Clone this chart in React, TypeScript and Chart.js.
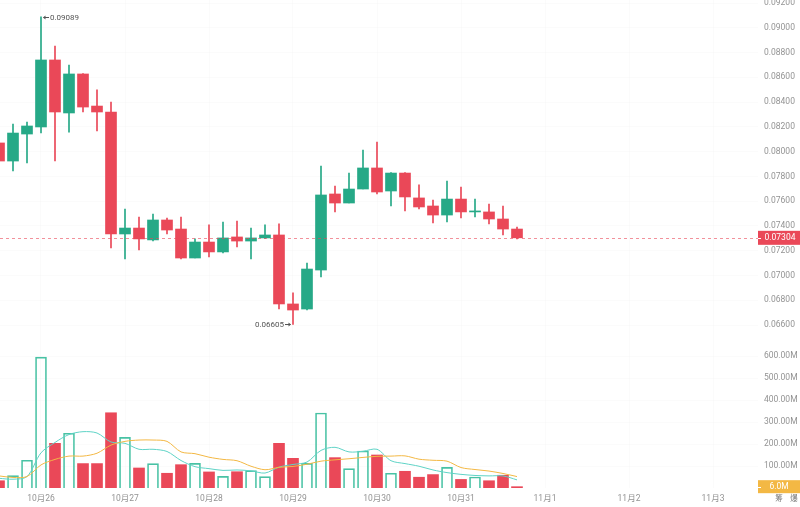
import React, { useEffect, useRef } from 'react';
import { Chart, registerables } from 'chart.js';

Chart.register(...registerables);

// hours relative to 10月26 00:00, one candle every 4h
const hours = [-12, -8, -4, 0, 4, 8, 12, 16, 20, 24, 28, 32, 36, 40, 44, 48, 52, 56, 60, 64, 68, 72, 76, 80, 84, 88, 92, 96, 100, 104, 108, 112, 116, 120, 124, 128, 132, 136];

const opens = [0.0807, 0.07924, 0.08142, 0.08199, 0.0874, 0.08312, 0.08627, 0.08368, 0.0832, 0.07335, 0.07383, 0.07287, 0.07448, 0.07375, 0.07141, 0.0727, 0.0719, 0.07311, 0.07278, 0.07303, 0.07327, 0.0677, 0.06729, 0.07044, 0.07658, 0.07585, 0.07698, 0.07868, 0.07682, 0.07827, 0.07626, 0.07561, 0.07488, 0.07617, 0.07513, 0.07513, 0.07456, 0.07375];
const highs = [0.0811, 0.08223, 0.08239, 0.09089, 0.08853, 0.08699, 0.0863, 0.08498, 0.08401, 0.07537, 0.07472, 0.07496, 0.07464, 0.07472, 0.07295, 0.07408, 0.07432, 0.0744, 0.07383, 0.07408, 0.07416, 0.06859, 0.07101, 0.07884, 0.07722, 0.07827, 0.08013, 0.08078, 0.0783, 0.0783, 0.07731, 0.07609, 0.07763, 0.07714, 0.07617, 0.07577, 0.07561, 0.07391];
const lows = [0.079, 0.07844, 0.07908, 0.0815, 0.07924, 0.08158, 0.0832, 0.08167, 0.07222, 0.07133, 0.07206, 0.07278, 0.07335, 0.07133, 0.07141, 0.07149, 0.07182, 0.0723, 0.07133, 0.073, 0.06729, 0.06605, 0.06721, 0.06988, 0.07513, 0.07585, 0.07698, 0.07658, 0.07561, 0.07521, 0.07537, 0.07424, 0.07432, 0.07464, 0.07472, 0.07416, 0.07327, 0.07295];
const closes = [0.07924, 0.0815, 0.08207, 0.0874, 0.0832, 0.08627, 0.0836, 0.0832, 0.07335, 0.07383, 0.07295, 0.07448, 0.07367, 0.07141, 0.0727, 0.0719, 0.07303, 0.07278, 0.07303, 0.07327, 0.0677, 0.06721, 0.07052, 0.0765, 0.07585, 0.07698, 0.07868, 0.07674, 0.07827, 0.07634, 0.07553, 0.07488, 0.07617, 0.07513, 0.07521, 0.07456, 0.07375, 0.07304];

// volume in millions
const volumes = [33, 56, 126, 595, 203, 249, 111, 111, 342, 230, 91, 111, 67, 106, 112, 73, 53, 74, 79, 52, 203, 135, 112, 341, 138, 88, 168, 150, 67, 76, 49, 61, 94, 39, 50, 33, 58, 6];
const volMA5 = [44, 40, 52, 160, 207, 243, 256, 250, 209, 203, 176, 176, 166, 125, 97, 88, 80, 82, 78, 68, 95, 107, 118, 171, 185, 164, 167, 176, 124, 111, 99, 82, 70, 62, 57, 55, 55, 37];
const volMA10 = [55, 48, 52, 105, 130, 145, 145, 158, 195, 212, 218, 218, 212, 164, 156, 140, 130, 124, 99, 83, 94, 98, 108, 122, 128, 133, 139, 144, 145, 146, 131, 126, 122, 93, 84, 77, 66, 52];

const dayTicks = [0, 24, 48, 72, 96, 120, 144, 168, 192];
const dayLabels = ['10月26', '10月27', '10月28', '10月29', '10月30', '10月31', '11月1', '11月2', '11月3'];
const priceTicks = [0.066, 0.068, 0.07, 0.072, 0.074, 0.076, 0.078, 0.08, 0.082, 0.084, 0.086, 0.088, 0.09, 0.092];
const volumeTicks = [100, 200, 300, 400, 500, 600];

const UP = '#26a987';
const UP_LINE = '#48c2a4';
const DOWN = '#ea4858';
const MA5_COLOR = '#5fd3c6';
const MA10_COLOR = '#f3b844';
const TICK_COLOR = '#939393';
const FONT = 'Roboto, "Noto Sans CJK SC", sans-serif';
const GRID = 'rgba(0,0,0,0.015)';

const isUp = (i: number) => closes[i] >= opens[i];

const overlayPlugin = {
  id: 'overlay',
  afterDatasetsDraw(chart: any) {
    const { ctx, chartArea, scales } = chart;
    const xs = scales.x;
    const ys = scales.y;
    const last = closes[closes.length - 1];
    const py = Math.round(ys.getPixelForValue(last)) + 0.5;
    ctx.save();
    ctx.strokeStyle = 'rgba(234,72,88,0.6)';
    ctx.lineWidth = 1;
    ctx.setLineDash([3, 3]);
    ctx.beginPath();
    ctx.moveTo(chartArea.left, py);
    ctx.lineTo(chartArea.right, py);
    ctx.stroke();
    ctx.setLineDash([]);

    // high / low annotations
    let iHigh = 0;
    let iLow = 0;
    highs.forEach((v, i) => { if (v > highs[iHigh]) iHigh = i; });
    lows.forEach((v, i) => { if (v < lows[iLow]) iLow = i; });
    ctx.font = `8px ${FONT}`;
    ctx.fillStyle = '#555';
    ctx.strokeStyle = '#555';
    ctx.textBaseline = 'middle';

    const hx = xs.getPixelForValue(hours[iHigh]);
    const hy = Math.round(ys.getPixelForValue(highs[iHigh])) + 0.5;
    ctx.beginPath();
    ctx.moveTo(hx + 2.5, hy);
    ctx.lineTo(hx + 8, hy);
    ctx.stroke();
    ctx.beginPath();
    ctx.moveTo(hx + 2, hy);
    ctx.lineTo(hx + 4.5, hy - 2);
    ctx.lineTo(hx + 4.5, hy + 2);
    ctx.closePath();
    ctx.fill();
    ctx.textAlign = 'left';
    ctx.fillText(highs[iHigh].toFixed(5), hx + 9, hy);

    const lx = xs.getPixelForValue(hours[iLow]);
    const ly = Math.round(ys.getPixelForValue(lows[iLow])) + 0.5;
    ctx.beginPath();
    ctx.moveTo(lx - 8, ly);
    ctx.lineTo(lx - 2.5, ly);
    ctx.stroke();
    ctx.beginPath();
    ctx.moveTo(lx - 2, ly);
    ctx.lineTo(lx - 4.5, ly - 2);
    ctx.lineTo(lx - 4.5, ly + 2);
    ctx.closePath();
    ctx.fill();
    ctx.textAlign = 'right';
    ctx.fillText(lows[iLow].toFixed(5), lx - 9, ly);
    ctx.restore();
  },
  afterDraw(chart: any) {
    const { ctx, chartArea, scales, width } = chart;
    const ys = scales.y;
    const yv = scales.yv;
    ctx.save();
    const left = chartArea.right;
    const boxW = width - left;
    const cx = left + boxW / 2;
    ctx.font = `8.5px ${FONT}`;
    ctx.textAlign = 'center';
    ctx.textBaseline = 'middle';

    const last = closes[closes.length - 1];
    const py = ys.getPixelForValue(last);
    ctx.fillStyle = DOWN;
    ctx.fillRect(left, py - 7, boxW, 14);
    ctx.fillStyle = '#fff';
    ctx.fillRect(left, Math.round(py), 3, 1);
    ctx.fillText(last.toFixed(5), cx + 1, py);

    const lastV = volumes[volumes.length - 1];
    const vy = yv.getPixelForValue(lastV);
    ctx.fillStyle = MA10_COLOR;
    ctx.fillRect(left, vy - 6.5, boxW, 13);
    ctx.fillStyle = '#fff';
    ctx.fillRect(left, Math.round(vy), 3, 1);
    ctx.fillText(lastV.toFixed(1) + 'M', cx, vy);

    ctx.fillStyle = '#777';
    ctx.font = `7.5px ${FONT}`;
    ctx.fillText('筹', 779, 499);
    ctx.fillText('爆', 794, 499);
    ctx.restore();
  },
};

export default function App() {
  const ref = useRef<HTMLCanvasElement | null>(null);

  useEffect(() => {
    if (!ref.current) return;
    const candleColors = hours.map((_, i) => (isUp(i) ? UP : DOWN));
    const chart = new Chart(ref.current, {
      type: 'bar',
      data: {
        datasets: [
          {
            type: 'bar',
            label: 'wick',
            data: hours.map((h, i) => ({ x: h, y: [lows[i], highs[i]] })) as any,
            backgroundColor: candleColors,
            barThickness: 1,
            grouped: false,
            yAxisID: 'y',
            order: 4,
          },
          {
            type: 'bar',
            label: 'body',
            data: hours.map((h, i) => ({ x: h, y: [opens[i], closes[i]] })) as any,
            backgroundColor: candleColors,
            barThickness: 11,
            minBarLength: 1,
            grouped: false,
            yAxisID: 'y',
            order: 3,
          },
          {
            type: 'bar',
            label: 'volume',
            data: hours.map((h, i) => ({ x: h, y: volumes[i] })) as any,
            backgroundColor: hours.map((_, i) => (isUp(i) ? 'rgba(255,255,255,0)' : DOWN)),
            borderColor: hours.map((_, i) => (isUp(i) ? UP_LINE : DOWN)),
            borderWidth: hours.map((_, i) => (isUp(i) ? 1 : 0)) as any,
            barThickness: 11,
            grouped: false,
            yAxisID: 'yv',
            order: 2,
          },
          {
            type: 'line',
            label: 'MA5',
            data: hours.map((h, i) => ({ x: h, y: volMA5[i] })) as any,
            borderColor: MA5_COLOR,
            borderWidth: 1,
            pointRadius: 0,
            tension: 0.3,
            fill: false,
            yAxisID: 'yv',
            order: 1,
          },
          {
            type: 'line',
            label: 'MA10',
            data: hours.map((h, i) => ({ x: h, y: volMA10[i] })) as any,
            borderColor: MA10_COLOR,
            borderWidth: 1,
            pointRadius: 0,
            tension: 0.3,
            fill: false,
            yAxisID: 'yv',
            order: 0,
          },
        ],
      },
      options: {
        responsive: false,
        animation: false,
        events: [],
        layout: { padding: 0 },
        plugins: { legend: { display: false }, tooltip: { enabled: false } },
        scales: {
          x: {
            type: 'linear',
            min: -41 / 3.5,
            max: (758 - 41) / 3.5,
            offset: false,
            grid: { color: GRID, drawTicks: false, offset: false },
            border: { display: false },
            ticks: {
              color: TICK_COLOR,
              font: { size: 8.5, family: FONT },
              padding: 6,
              maxRotation: 0,
              autoSkip: false,
              callback: (v: any) => {
                const k = dayTicks.indexOf(Number(v));
                return k >= 0 ? dayLabels[k] : '';
              },
            },
            afterBuildTicks: (s: any) => {
              s.ticks = dayTicks.map((v) => ({ value: v }));
            },
            afterFit: (s: any) => {
              s.height = 19;
              s.paddingLeft = 0;
              s.paddingRight = 0;
            },
          },
          y: {
            type: 'linear',
            position: 'right',
            stack: 'main',
            stackWeight: 343,
            min: 0.092 - 340 / 12385,
            max: 0.092 + 3 / 12385,
            grid: { color: GRID, drawTicks: false },
            border: { display: false },
            ticks: {
              color: TICK_COLOR,
              font: { size: 8.5, family: FONT },
              padding: 6,
              callback: (v: any) => Number(v).toFixed(5),
            },
            afterBuildTicks: (s: any) => {
              s.ticks = priceTicks.map((v) => ({ value: v }));
            },
            afterFit: (s: any) => {
              s.width = 42;
              s.paddingTop = 0;
              s.paddingBottom = 0;
            },
          },
          yv: {
            type: 'linear',
            position: 'right',
            stack: 'main',
            stackWeight: 145,
            min: 0,
            max: 145 / 0.22,
            grid: { color: GRID, drawTicks: false },
            border: { display: false },
            ticks: {
              color: TICK_COLOR,
              font: { size: 8.5, family: FONT },
              padding: 6,
              callback: (v: any) => Number(v).toFixed(2) + 'M',
            },
            afterBuildTicks: (s: any) => {
              s.ticks = volumeTicks.map((v) => ({ value: v }));
            },
            afterFit: (s: any) => {
              s.width = 42;
              s.paddingTop = 0;
              s.paddingBottom = 0;
            },
          },
        },
      } as any,
      plugins: [overlayPlugin],
    });
    return () => chart.destroy();
  }, []);

  return (
    <div style={{ position: 'absolute', left: 0, top: 0, width: 800, height: 507, background: '#fff' }}>
      <canvas ref={ref} width={800} height={507} style={{ display: 'block' }} />
    </div>
  );
}
